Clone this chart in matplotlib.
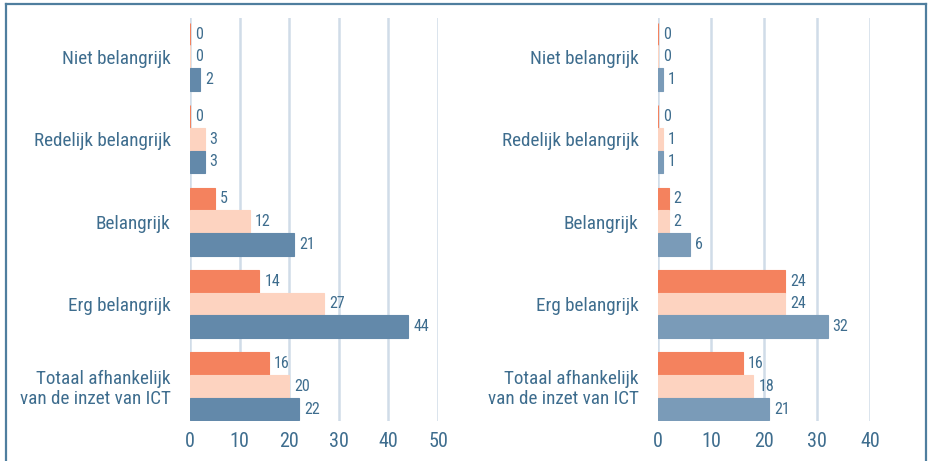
import matplotlib
matplotlib.use("Agg")
import matplotlib.pyplot as plt
from matplotlib.lines import Line2D
import numpy as np

categories = [
    "Niet belangrijk",
    "Redelijk belangrijk",
    "Belangrijk",
    "Erg belangrijk",
    "Totaal afhankelijk\nvan de inzet van ICT",
]

# left panel: three series per category (top to bottom within group)
left_orange = [0, 0, 5, 14, 16]
left_peach = [0, 3, 12, 27, 20]
left_blue = [2, 3, 21, 44, 22]

# right panel
right_orange = [0, 0, 2, 24, 16]
right_peach = [0, 1, 2, 24, 18]
right_blue = [1, 1, 6, 32, 21]

left_ticks = [0, 10, 20, 30, 40, 50]
right_ticks = [0, 10, 20, 30, 40]

ORANGE = "#F4825E"
PEACH = "#FDD3C0"
BLUE_LEFT = "#6389AA"
BLUE_RIGHT = "#7A9BB8"
TEXT = "#3E6D8E"
GRID = "#D0DCE8"
FRAME = "#4F7E9E"

plt.rcParams["font.family"] = ["Roboto Condensed", "Roboto", "DejaVu Sans"]
plt.rcParams["font.stretch"] = "condensed"

BAR_H = 0.275


def draw_panel(ax, series, colors, ticks):
    y = np.arange(len(categories))
    offsets = [-BAR_H, 0, BAR_H]
    for vals, color, off in zip(series, colors, offsets):
        bars = ax.barh(y + off, vals, height=BAR_H, color=color,
                       edgecolor=color, linewidth=0.8, zorder=3)
        for bar, v in zip(bars, vals):
            ax.annotate(str(v), (bar.get_width(), bar.get_y() + bar.get_height() / 2),
                        xytext=(3.5, 0), textcoords="offset points",
                        ha="left", va="center", fontsize=11.5, color=TEXT)
    ax.set_yticks(y, labels=categories)
    ax.set_ylim(len(categories) - 1 + 0.42, -0.47)
    ax.set_xlim(ticks[0], ticks[-1])
    ax.set_xticks(ticks)
    ax.tick_params(axis="both", length=0, colors=TEXT)
    ax.tick_params(axis="y", labelsize=13.8, pad=14)
    ax.tick_params(axis="x", labelsize=14.5, pad=8)
    for lbl in ax.get_yticklabels():
        lbl.set_horizontalalignment("right")
        lbl.set_multialignment("right")
        lbl.set_linespacing(1.1)
    ax.grid(axis="x", color=GRID, linewidth=1.8, zorder=0)
    for s in ax.spines.values():
        s.set_visible(False)
    ax.set_facecolor("none")


fig = plt.figure(figsize=(9.3, 4.61), dpi=100)
ax1 = fig.add_axes([0.2043, 0.0868, 0.2667, 0.874])
ax2 = fig.add_axes([0.7075, 0.0868, 0.2280, 0.874])

draw_panel(ax1, [left_orange, left_peach, left_blue], [ORANGE, PEACH, BLUE_LEFT], left_ticks)
draw_panel(ax2, [right_orange, right_peach, right_blue], [ORANGE, PEACH, BLUE_RIGHT], right_ticks)

# frame around the figure, open at the bottom
x0, x1, ytop = 5.5 / 930, 925.5 / 930, 1 - 4.5 / 461
for xs, ys in [([x0, x0], [0, ytop]), ([x0, x1], [ytop, ytop]), ([x1, x1], [ytop, 0])]:
    fig.add_artist(Line2D(xs, ys, transform=fig.transFigure, color=FRAME, linewidth=1.6))

fig.savefig("out.png", dpi=100)
